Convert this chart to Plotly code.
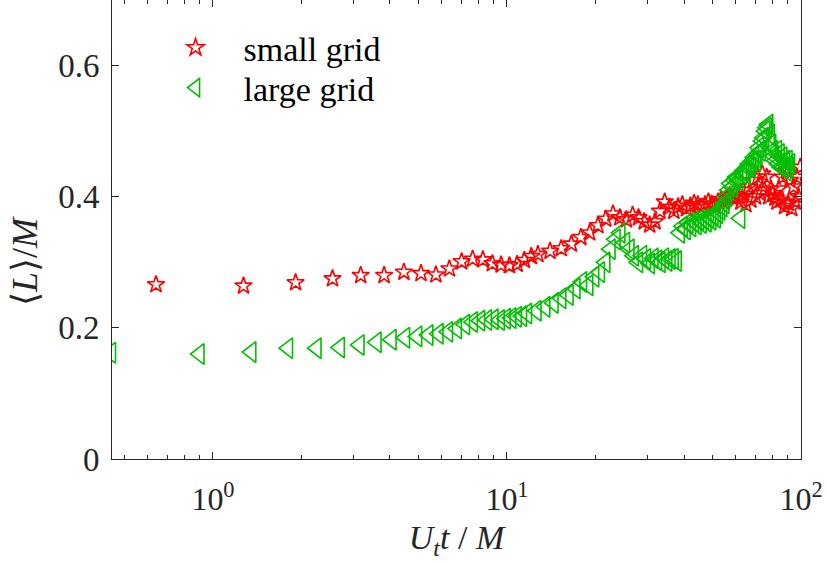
import plotly.graph_objects as go

# ---- data ----
small_t = [0.64, 1.27, 1.91, 2.55, 3.18, 3.82, 4.46, 5.10, 5.73, 6.37,
           7.01, 7.64, 8.28, 8.92, 9.55, 10.19, 10.83, 11.46, 12.10, 12.74,
           14.01, 15.29, 16.56, 17.83, 19.11, 20.38, 21.66, 22.93, 24.20, 25.48,
           26.75, 28.02, 29.30, 30.57, 31.85, 33.12, 34.39, 35.67, 36.94, 38.21,
           39.49, 40.76, 42.04, 43.31, 44.58, 45.86, 47.13, 48.40, 49.68, 50.95,
           52.23, 53.50, 54.77, 56.05, 57.32, 58.59, 59.87, 61.14, 62.42, 63.69,
           64.96, 66.24, 67.51, 68.78, 70.06, 71.33, 72.60, 73.88, 75.15, 76.43,
           77.70, 78.97, 80.25, 81.52, 82.80, 84.07, 85.34, 86.62, 87.89, 89.16,
           90.44, 91.71, 92.99, 94.26, 95.53, 96.81, 98.08, 99.36]
small_L = [0.266, 0.264, 0.269, 0.275, 0.280, 0.280, 0.285, 0.283, 0.281, 0.290,
           0.301, 0.305, 0.304, 0.298, 0.296, 0.295, 0.297, 0.303, 0.309, 0.312,
           0.317, 0.321, 0.328, 0.338, 0.345, 0.356, 0.366, 0.374, 0.368, 0.365,
           0.372, 0.368, 0.362, 0.357, 0.362, 0.378, 0.392, 0.384, 0.378, 0.385,
           0.388, 0.382, 0.386, 0.390, 0.388, 0.384, 0.388, 0.392, 0.389, 0.386,
           0.392, 0.396, 0.392, 0.398, 0.402, 0.398, 0.404, 0.400, 0.392, 0.410,
           0.388, 0.415, 0.395, 0.425, 0.400, 0.430, 0.405, 0.435, 0.410, 0.430,
           0.400, 0.412, 0.405, 0.398, 0.392, 0.412, 0.395, 0.430, 0.385, 0.440,
           0.390, 0.425, 0.382, 0.415, 0.392, 0.430, 0.400, 0.445]

large_t = [0.45, 0.90, 1.35, 1.80, 2.25, 2.70, 3.15, 3.60, 4.05, 4.50,
           4.95, 5.40, 5.85, 6.30, 6.75, 7.20, 7.65, 8.10, 8.55, 9.00,
           9.45, 9.90, 10.35, 10.80, 11.25, 11.70, 12.60, 13.50, 14.40, 15.30,
           16.20, 17.10, 18.00, 18.90, 19.80, 20.70, 21.60, 22.50, 23.40, 24.30,
           25.20, 26.10, 27.00, 27.90, 28.80, 29.70, 30.60, 31.50, 32.40, 33.30,
           34.20, 35.10, 36.00, 36.90, 37.80, 38.70, 39.60, 40.50, 41.40, 42.30,
           43.20, 44.10, 45.00, 45.90, 46.80, 47.70, 48.60, 49.50, 50.40, 51.30,
           52.20, 53.10, 54.00, 54.90, 55.80, 56.70, 57.60, 58.50, 59.40, 60.30,
           61.20, 62.10, 63.00, 63.90, 64.80, 65.70, 66.60, 67.50, 68.40, 69.30,
           70.20, 71.10, 72.00, 72.90, 73.80, 74.70, 75.60, 76.50, 77.40, 78.30,
           79.20, 80.10, 81.00, 81.90, 82.80, 83.70, 84.60, 85.50, 86.40, 87.30,
           88.20, 89.10, 90.00, 90.90, 91.80]
large_L = [0.162, 0.160, 0.163, 0.169, 0.169, 0.170, 0.174, 0.178, 0.182, 0.185,
           0.187, 0.189, 0.191, 0.194, 0.199, 0.205, 0.209, 0.211, 0.212, 0.213,
           0.212, 0.214, 0.215, 0.217, 0.218, 0.222, 0.226, 0.232, 0.238, 0.245,
           0.250, 0.260, 0.270, 0.265, 0.278, 0.285, 0.300, 0.320, 0.335, 0.345,
           0.330, 0.320, 0.310, 0.300, 0.310, 0.305, 0.298, 0.306, 0.303, 0.300,
           0.306, 0.302, 0.305, 0.305, 0.302, 0.345, 0.355, 0.350, 0.360, 0.355,
           0.362, 0.358, 0.365, 0.360, 0.366, 0.362, 0.368, 0.365, 0.372, 0.368,
           0.375, 0.380, 0.385, 0.390, 0.400, 0.410, 0.420, 0.415, 0.425, 0.430,
           0.425, 0.367, 0.435, 0.440, 0.435, 0.445, 0.450, 0.445, 0.455, 0.460,
           0.455, 0.465, 0.475, 0.470, 0.485, 0.490, 0.500, 0.505, 0.510, 0.495,
           0.480, 0.470, 0.462, 0.455, 0.470, 0.450, 0.465, 0.445, 0.460, 0.445,
           0.455, 0.440, 0.455, 0.445, 0.450]

x_tickvals = [1, 10, 100]
x_ticktext = ["10<sup>0</sup>", "10<sup>1</sup>", "10<sup>2</sup>"]
x_minor = [0.5, 0.6, 0.7, 0.8, 0.9, 2, 3, 4, 5, 6, 7, 8, 9,
           20, 30, 40, 50, 60, 70, 80, 90]
y_tickvals = [0, 0.2, 0.4, 0.6]
y_ticktext = ["0", "0.2", "0.4", "0.6"]
x_title = "<i>U</i><sub><i>t</i></sub><i>t</i> / <i>M</i>"
y_title = "⟨<i>L</i>⟩/<i>M</i>"

FONT = "Liberation Serif, Times New Roman, serif"
AX = "#262626"

fig = go.Figure()
fig.add_trace(go.Scatter(
    x=small_t, y=small_L, mode="markers", name="small grid", legend="legend",
    marker=dict(symbol="star-open", size=13, color="#ff0000",
                line=dict(width=1.6, color="#ff0000")),
))
fig.add_trace(go.Scatter(
    x=large_t, y=large_L, mode="markers", name="large grid", legend="legend2",
    marker=dict(symbol="triangle-left-open", size=18, color="#00bf00",
                line=dict(width=1.6, color="#00bf00")),
))

leg_common = dict(xanchor="left", yanchor="middle",
                  bgcolor="rgba(0,0,0,0)", borderwidth=0, itemwidth=86,
                  font=dict(family=FONT, size=34, color="#000000"))

fig.update_layout(
    width=826, height=562,
    margin=dict(l=112, r=25, t=0, b=103),
    paper_bgcolor="white", plot_bgcolor="white",
    font=dict(family=FONT, size=30, color=AX),
    showlegend=True,
    legend=dict(x=0.0516, y=1 - 48 / 459, **leg_common),
    legend2=dict(x=0.0516, y=1 - 88 / 459, **leg_common),
    annotations=[dict(text=y_title, textangle=-90, showarrow=False,
                      xref="paper", yref="paper",
                      x=(25 - 112) / 689, y=1 - 261 / 459,
                      xanchor="center", yanchor="middle",
                      font=dict(family=FONT, size=36, color=AX))],
)
fig.update_xaxes(
    type="log", range=[-0.3434, 2.0], automargin=False,
    tickmode="array", tickvals=x_tickvals, ticktext=x_ticktext,
    ticks="inside", ticklen=7, tickwidth=1, tickcolor=AX,
    minor=dict(tickmode="array", tickvals=x_minor, ticks="inside",
               ticklen=4, tickwidth=1, tickcolor=AX),
    showline=True, linecolor=AX, linewidth=1, mirror="ticks",
    showgrid=False, zeroline=False,
    ticklabelstandoff=12,
    tickfont=dict(family=FONT, size=32, color=AX),
    title=dict(text=x_title,
               font=dict(family=FONT, size=34, color=AX), standoff=8),
)
fig.update_yaxes(
    range=[0, 0.7], automargin=False,
    tickmode="array", tickvals=y_tickvals, ticktext=y_ticktext,
    ticks="inside", ticklen=7, tickwidth=1, tickcolor=AX,
    showline=True, linecolor=AX, linewidth=1, mirror="ticks",
    showgrid=False, zeroline=False,
    ticklabelstandoff=5,
    tickfont=dict(family=FONT, size=33, color=AX),
)

fig.write_html("out.html", config={"displayModeBar": False},
               post_script="document.body.style.margin='0';document.body.style.overflow='hidden';")
